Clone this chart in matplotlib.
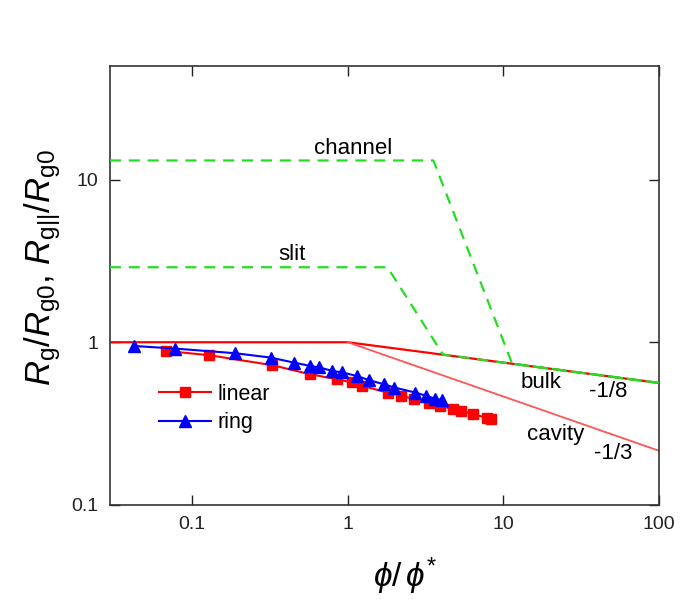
import numpy as np
import matplotlib.pyplot as plt

plt.rcParams['font.family'] = ['Liberation Sans', 'DejaVu Sans']
plt.rcParams['mathtext.fontset'] = 'custom'
plt.rcParams['mathtext.rm'] = 'Liberation Sans'
plt.rcParams['mathtext.it'] = 'Liberation Sans:italic'

# simulation data
linear_x = [0.068, 0.129, 0.327, 0.571, 0.849, 1.07, 1.24, 1.80, 2.20, 2.68,
            3.35, 3.94, 4.73, 5.36, 6.38, 7.88, 8.3]
linear_y = [0.885, 0.832, 0.723, 0.636, 0.593, 0.566, 0.539, 0.491, 0.469, 0.447,
            0.423, 0.407, 0.388, 0.379, 0.362, 0.342, 0.337]
ring_x = [0.042, 0.078, 0.189, 0.319, 0.45, 0.571, 0.653, 0.796, 0.924, 1.14,
          1.37, 1.70, 1.99, 2.71, 3.19, 3.61, 4.02]
ring_y = [0.949, 0.914, 0.856, 0.805, 0.750, 0.716, 0.700, 0.667, 0.652, 0.621,
          0.585, 0.552, 0.527, 0.491, 0.469, 0.451, 0.441]

# scaling lines
x_min, x_max = 0.0295, 100
bulk_slope = -1 / 8
cavity_slope = -1 / 3
slit_level, slit_break, slit_join = 2.89, 1.80, 4.1
channel_level, channel_break, channel_join = 13.1, 3.55, 11.4


def bulk(x):
    return np.where(np.asarray(x) > 1, np.asarray(x, dtype=float) ** bulk_slope, 1.0)


fig = plt.figure(figsize=(6.95, 6.04), dpi=100)
ax = fig.add_axes([0.158, 0.164, 0.79, 0.727])

red = '#ff0000'
green = '#22dd22'

ax.plot([x_min, 1, x_max], bulk([x_min, 1, x_max]), color=red, lw=1.6, zorder=2)
ax.plot([1, x_max], [1, x_max ** cavity_slope], color='#ff5555', lw=1.3, zorder=2)

sx = [x_min, slit_break, slit_join, x_max]
sy = [slit_level, slit_level, float(bulk(slit_join)), float(bulk(x_max))]
ax.plot(sx, sy, color=green, lw=1.6, ls=(0, (5, 3.5)), zorder=3)
cx = [x_min, channel_break, channel_join, x_max]
cy = [channel_level, channel_level, float(bulk(channel_join)), float(bulk(x_max))]
ax.plot(cx, cy, color=green, lw=1.6, ls=(0, (5, 3.5)), zorder=3)

ax.plot(linear_x, linear_y, color=red, marker='s', ms=7, lw=1.5, label='linear', zorder=4)
ax.plot(ring_x, ring_y, color='#0000ff', marker='^', ms=8.5, lw=1.5, label='ring', zorder=5)

ax.set_xscale('log')
ax.set_yscale('log')
ax.set_xlim(x_min, x_max)
ax.set_ylim(0.1, 50)
ax.set_xticks([0.1, 1, 10, 100], ['0.1', '1', '10', '100'])
ax.set_yticks([0.1, 1, 10], ['0.1', '1', '10'])
ax.minorticks_off()
ax.tick_params(direction='in', length=7, width=1, labelsize=14, top=True, right=True,
               pad=8, colors='#222222')
for s in ax.spines.values():
    s.set_linewidth(1.2)
    s.set_color('#333333')

ax.text(1.08, 15.5, 'channel', fontsize=16, ha='center', va='center')
ax.text(0.435, 3.46, 'slit', fontsize=16, ha='center', va='center')
ax.text(17.5, 0.562, 'bulk', fontsize=16, ha='center', va='center')
ax.text(47, 0.50, '-1/8', fontsize=16, ha='center', va='center')
ax.text(21.8, 0.27, 'cavity', fontsize=16, ha='center', va='center')
ax.text(50.7, 0.206, '-1/3', fontsize=16, ha='center', va='center')

ax.legend(loc='upper left', bbox_to_anchor=(0.055, 0.32), frameon=False, fontsize=15.5,
          handlelength=2.4, handletextpad=0.3, labelspacing=0.35)

ax.set_xlabel(r'$\phi/\,\phi^{*}$', fontsize=24)
ax.xaxis.set_label_coords(0.537, -0.115)
ax.set_ylabel(r'$R_{\rm g}/R_{\rm g0}$, $R_{\rm g||}/R_{\rm g0}$', fontsize=25)
ax.yaxis.set_label_coords(-0.085, 0.54)

fig.savefig('out.png', dpi=100, facecolor='white')
